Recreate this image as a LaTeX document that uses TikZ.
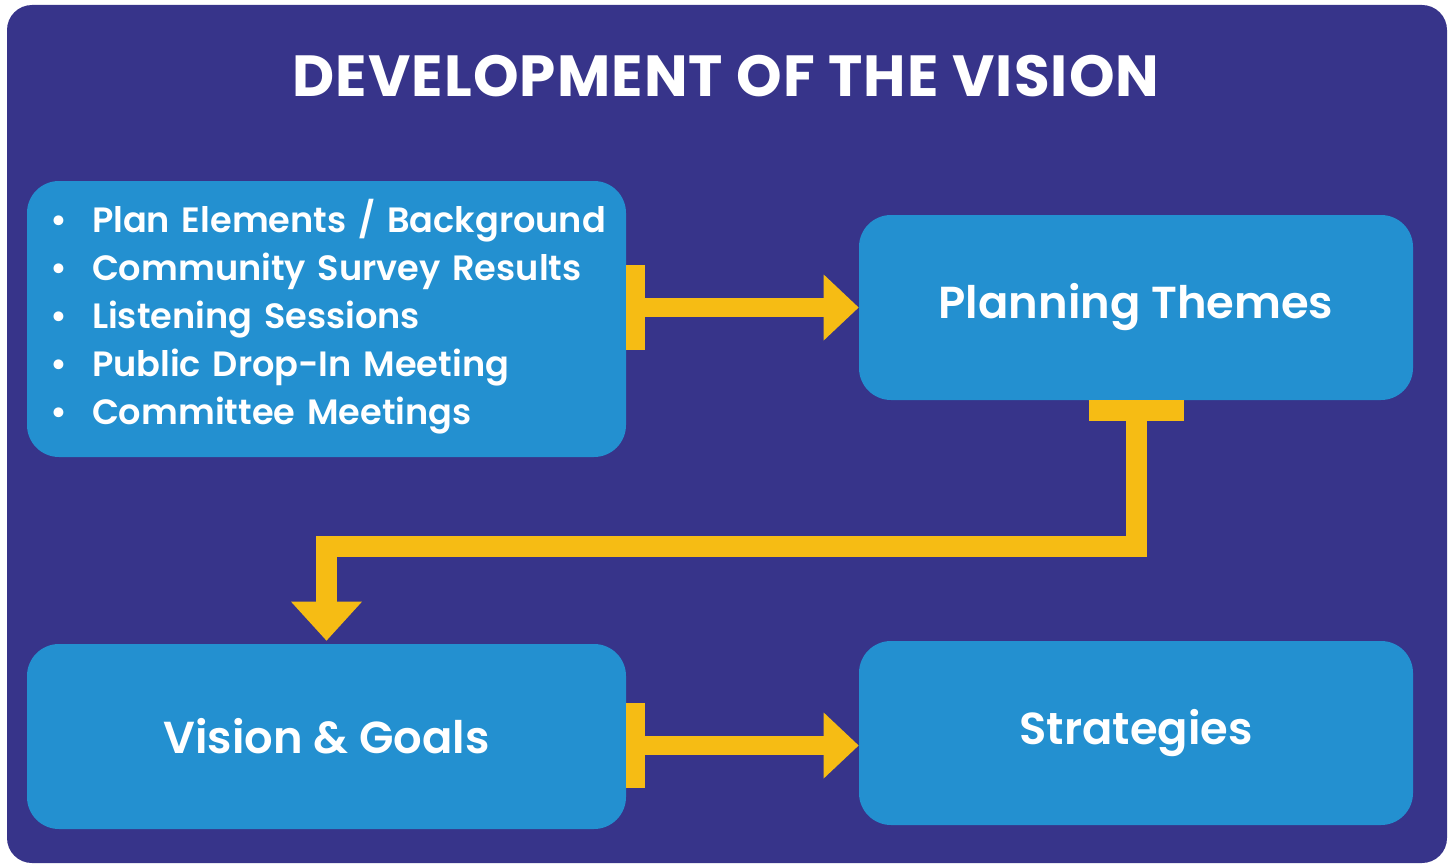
\documentclass[tikz,border=0pt]{standalone}
\usepackage{fontspec}
\setmainfont{Poppins}
\newfontfamily\boxfont{Poppins}[UprightFont={* SemiBold}]
\usetikzlibrary{arrows.meta,positioning}
\definecolor{visionpurple}{RGB}{55,52,138}
\definecolor{stageblue}{RGB}{35,144,208}
\definecolor{flowyellow}{RGB}{246,188,20}

\begin{document}
\begin{tikzpicture}[
    node distance=16.19cm,
    >={Triangle[length=0.7cm,width=1.32cm,line width=0pt]},
    stage/.style={
        rectangle,
        rounded corners=0.64cm,
        fill=stageblue,
        text=white,
        minimum width=11.08cm,
        minimum height=3.7cm,
        inner sep=0pt,
        font=\boxfont\fontsize{25.5}{30}\selectfont
    },
    flow/.style={
        draw=flowyellow,
        line width=0.39cm,
        {Bar[width=1.7cm,line width=0.38cm]}->
    }
  ]
  % background panel
  \useasboundingbox (0,0) rectangle (29.06,-17.32);
  \fill [visionpurple, rounded corners=0.5cm] (0.14,-0.1) rectangle (28.94,-17.26);

  \node [text=white, font=\rmfamily\bfseries\fontsize{33}{38}\selectfont\addfontfeature{LetterSpace=2}] (title) at (14.52,-1.52) {DEVELOPMENT OF THE VISION};

  % We start by placing the blocks
  \node [stage, minimum width=11.98cm, minimum height=5.52cm, text width=11.06cm, align=left,
         font=\boxfont\fontsize{20}{27.3}\selectfont] (pool) at (6.53,-6.38)
 {%
 \begin{tabular}{@{}p{0.84cm}@{}l@{}}
  • & Plan Elements / Background\\
  • & Community Survey Results\\
  • & Listening Sessions\\
  • & Public Drop-In Meeting\\
  • & Committee Meetings
 \end{tabular}
 };

  \node [stage, right of=pool, yshift=0.23cm] (themes) {Planning Themes};

  \node [stage, node distance=8.35cm, below of=pool, minimum width=11.98cm] (vision) {Vision \& Goals};

  \node [stage, right of=vision, yshift=0.07cm, minimum height=3.68cm] (strat) {Strategies};

  % then the arrows
  \coordinate (flowstart) at ([yshift=-0.18cm]vision.east);
  \draw [flow] (pool.east |- themes.west) -- (themes.west);
  \draw [flow, line width=0.42cm, line join=miter, shorten >=0.06cm,
         {Bar[width=1.9cm,line width=0.42cm]}-{Triangle[length=0.78cm,width=1.42cm,line width=0pt]}]
        (themes.south) -- ++(0,-2.93) -| (vision.north);
  \draw [flow] (flowstart) -- (flowstart -| strat.west);

\end{tikzpicture}
\end{document}
